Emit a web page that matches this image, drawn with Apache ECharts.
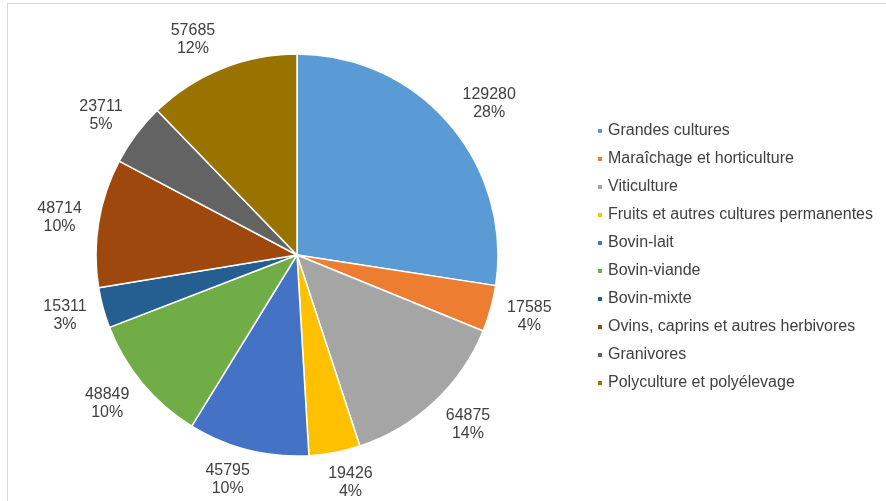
<!DOCTYPE html>
<html>
<head>
<meta charset="utf-8">
<script src="https://cdn.jsdelivr.net/npm/echarts@6/dist/echarts.min.js"></script>
<style>
  html, body { margin: 0; padding: 0; background: #fff; }
  #chart { width: 886px; height: 501px; }
</style>
</head>
<body>
<div id="chart"></div>
<script>
// Orientations technico-économiques : nombre et part par catégorie
const categories = [
  'Grandes cultures',
  'Maraîchage et horticulture',
  'Viticulture',
  'Fruits et autres cultures permanentes',
  'Bovin-lait',
  'Bovin-viande',
  'Bovin-mixte',
  'Ovins, caprins et autres herbivores',
  'Granivores',
  'Polyculture et polyélevage'
];
const values = [129280, 17585, 64875, 19426, 45795, 48849, 15311, 48714, 23711, 57685];
const colors = ['#5B9BD5', '#ED7D31', '#A5A5A5', '#FFC000', '#4472C4',
                '#70AD47', '#255E91', '#9E480E', '#636363', '#997300'];

const pieData = categories.map((name, i) => ({ name, value: values[i] }));
const textColor = '#404040';
const fontFamily = '"Liberation Sans", Arial, sans-serif';

// pie geometry
const CX = 297, CY = 255, R = 201;
const LABEL_GAP = 17;

// mid-angle direction of each slice (clockwise from 12 o'clock)
const total = values.reduce((a, b) => a + b, 0);
const midDirs = [];
{
  let acc = 0;
  values.forEach(v => {
    const a = (acc + v / 2) / total * 2 * Math.PI;
    midDirs.push([Math.sin(a), -Math.cos(a)]);
    acc += v;
  });
}

// "outside end" placement: the label box sits just beyond the rim,
// pushed away from the pie along the slice's mid-angle
function placeLabel(params) {
  const [ux, uy] = midDirs[params.dataIndex];
  const w = params.labelRect.width;
  const d = R + LABEL_GAP;
  const x = CX + ux * d + Math.sign(ux) * Math.min(1, Math.abs(ux) * 3) * w / 2;
  const y = CY + uy * d + uy * 14;
  return { x, y, align: 'center', verticalAlign: 'middle' };
}

const chart = echarts.init(document.getElementById('chart'), null, { renderer: 'canvas' });
chart.setOption({
  animation: false,
  color: colors,
  graphic: [{
    type: 'rect',
    shape: { x: 7.5, y: 3.5, width: 920, height: 560 },
    style: { fill: 'none', stroke: '#d9d9d9', lineWidth: 1 },
    silent: true
  }],
  legend: {
    orient: 'vertical',
    left: 591,
    top: 118,
    data: categories,
    icon: 'rect',
    itemWidth: 6,
    itemHeight: 6,
    itemGap: 12,
    selectedMode: false,
    textStyle: { color: textColor, fontSize: 16, fontFamily }
  },
  series: [
    {
      type: 'pie',
      center: [CX, CY],
      radius: R,
      startAngle: 90,
      clockwise: true,
      percentPrecision: 0,
      avoidLabelOverlap: false,
      data: pieData,
      label: {
        show: true,
        position: 'outside',
        formatter: '{c}\n{d}%',
        color: textColor,
        fontSize: 16,
        lineHeight: 18,
        fontFamily,
        align: 'center'
      },
      labelLine: { show: false },
      labelLayout: placeLabel,
      itemStyle: { borderColor: '#fff', borderWidth: 1.5 },
      emphasis: { disabled: true }
    }
  ]
});
</script>
</body>
</html>
